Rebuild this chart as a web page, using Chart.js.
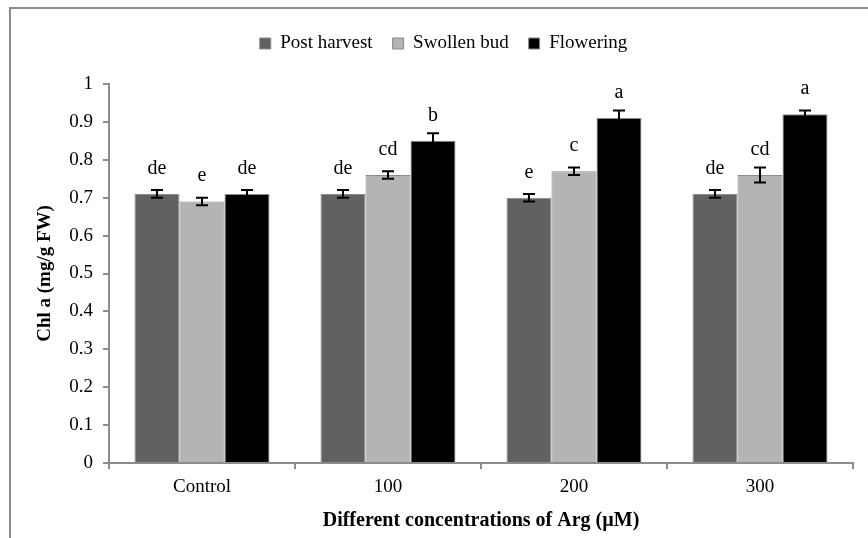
<!DOCTYPE html>
<html lang="en">
<head>
    <meta charset="UTF-8">
    <title>Chl a</title>
    <script src="https://cdn.jsdelivr.net/npm/chart.js"></script>
    <style>
        html, body { margin: 0; padding: 0; background: #fff; }
        #wrap { position: relative; width: 868px; height: 538px; }
        #frame {
            position: absolute; left: 9px; top: 7px; right: -2px; bottom: -2px;
            border-left: 2px solid #8c8c8c; border-top: 2px solid #8c8c8c;
            pointer-events: none;
        }
        canvas { position: absolute; left: 0; top: 0; }
    </style>
</head>
<body>
<div id="wrap">
    <canvas id="chl" width="868" height="538"></canvas>
    <div id="frame"></div>
</div>
<script>
    const categories = ["Control", "100", "200", "300"];
    const seriesNames = ["Post harvest", "Swollen bud", "Flowering"];
    const postHarvest = [0.71, 0.71, 0.70, 0.71];
    const swollenBud = [0.69, 0.76, 0.77, 0.76];
    const flowering = [0.71, 0.85, 0.91, 0.92];
    const errPost = [0.01, 0.01, 0.01, 0.01];
    const errSwollen = [0.01, 0.01, 0.01, 0.02];
    const errFlower = [0.01, 0.02, 0.02, 0.01];
    const lettersPost = ["de", "de", "e", "de"];
    const lettersSwollen = ["e", "cd", "c", "cd"];
    const lettersFlower = ["de", "b", "a", "a"];

    const errors = [errPost, errSwollen, errFlower];
    const letters = [lettersPost, lettersSwollen, lettersFlower];
    const colors = ["#616161", "#b4b4b4", "#000000"];
    const FONT = "'Liberation Serif', 'Times New Roman', serif";

    // extra room under the legend
    const legendGap = {
        id: "legendGap",
        beforeInit(chart) {
            const fit = chart.legend.fit;
            chart.legend.fit = function () {
                fit.call(this);
                this.height += 21;
            };
        }
    };

    // error bars + significance letters
    const errorBarPlugin = {
        id: "errorBars",
        afterDatasetsDraw(chart) {
            const ctx = chart.ctx;
            const y = chart.scales.y;
            ctx.save();
            chart.data.datasets.forEach((ds, di) => {
                const meta = chart.getDatasetMeta(di);
                meta.data.forEach((bar, i) => {
                    const v = ds.data[i];
                    const e = errors[di][i];
                    const top = y.getPixelForValue(v + e);
                    const bot = y.getPixelForValue(v - e);
                    ctx.strokeStyle = "#000";
                    ctx.lineWidth = 2;
                    ctx.beginPath();
                    ctx.moveTo(bar.x, top);
                    ctx.lineTo(bar.x, bot);
                    ctx.moveTo(bar.x - 6, top);
                    ctx.lineTo(bar.x + 6, top);
                    ctx.moveTo(bar.x - 6, bot);
                    ctx.lineTo(bar.x + 6, bot);
                    ctx.stroke();
                    ctx.fillStyle = "#000";
                    ctx.font = "20px " + FONT;
                    ctx.textAlign = "center";
                    ctx.textBaseline = "alphabetic";
                    ctx.fillText(letters[di][i], bar.x, y.getPixelForValue(v) - 20);
                });
            });
            ctx.restore();
        }
    };

    new Chart(document.getElementById("chl"), {
        type: "bar",
        data: {
            labels: categories,
            datasets: [
                { label: seriesNames[0], data: postHarvest, backgroundColor: colors[0] },
                { label: seriesNames[1], data: swollenBud, backgroundColor: colors[1] },
                { label: seriesNames[2], data: flowering, backgroundColor: colors[2] }
            ].map(d => Object.assign(d, {
                borderColor: "#8a8a8a", borderWidth: 1,
                barPercentage: 1.0, categoryPercentage: 0.726
            }))
        },
        options: {
            responsive: false,
            animation: false,
            layout: { padding: { left: 34, right: 15, top: 14, bottom: 0 } },
            plugins: {
                tooltip: { enabled: false },
                legend: {
                    position: "top",
                    labels: {
                        color: "#000",
                        font: { family: FONT, size: 19 },
                        boxWidth: 11, boxHeight: 11,
                        padding: 20
                    }
                }
            },
            scales: {
                x: {
                    grid: { display: true, drawOnChartArea: false, offset: true,
                            color: "#8c8c8c", lineWidth: 2, tickLength: 6 },
                    border: { color: "#8c8c8c", width: 2 },
                    ticks: { color: "#000", font: { family: FONT, size: 19 }, padding: 7 },
                    title: { display: true, text: "Different concentrations of Arg (\u00b5M)",
                             color: "#000", font: { family: FONT, size: 20, weight: "bold" },
                             padding: { top: 4, bottom: 5 } },
                    afterFit(scale) { scale.height = 75; }
                },
                y: {
                    min: 0, max: 1,
                    grid: { display: true, drawOnChartArea: false,
                            color: "#8c8c8c", lineWidth: 2, tickLength: 6 },
                    border: { color: "#8c8c8c", width: 2 },
                    ticks: { stepSize: 0.1, color: "#000", font: { family: FONT, size: 19 }, padding: 10,
                             callback: v => Math.round(v * 10) / 10 },
                    title: { display: true, text: "Chl a (mg/g FW)",
                             color: "#000", font: { family: FONT, size: 19, weight: "bold" },
                             padding: { top: 0, bottom: 4 } },
                    afterFit(scale) { scale.width = 75; }
                }
            }
        },
        plugins: [legendGap, errorBarPlugin]
    });
</script>
</body>
</html>
